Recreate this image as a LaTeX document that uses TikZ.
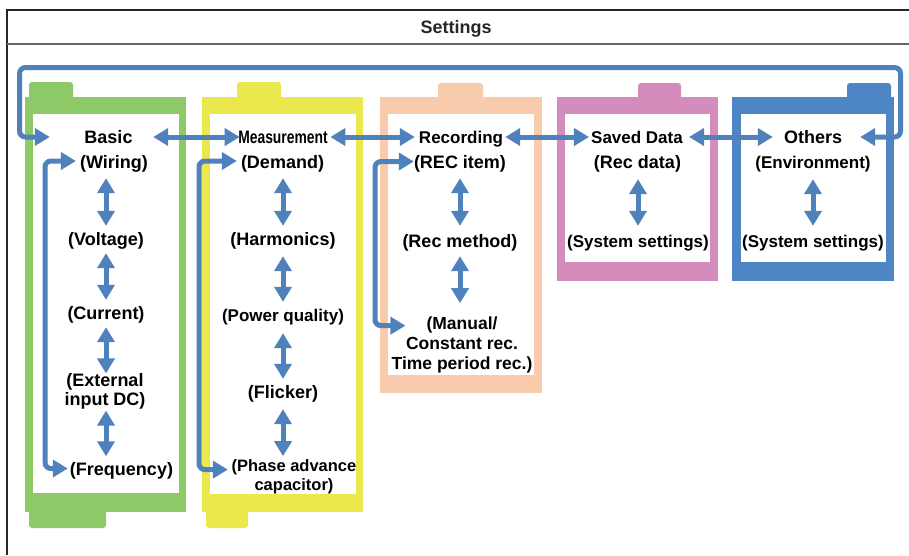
\documentclass[tikz,border=0pt]{standalone}
\usepackage{fontspec}
\setmainfont{Liberation Sans}
\usetikzlibrary{arrows.meta}
\definecolor{abl}{RGB}{79,129,189}
\definecolor{fgreen}{RGB}{141,201,103}
\definecolor{fyellow}{RGB}{235,232,78}
\definecolor{fpeach}{RGB}{247,203,172}
\definecolor{fpink}{RGB}{211,140,187}
\definecolor{fblue}{RGB}{78,134,197}
\newcommand\fsz[2]{\fontsize{#1}{#2}\selectfont\bfseries}
\tikzset{
  lbl/.style={font=\fsz{18}{19}, inner sep=0pt, text height=13pt, text depth=4pt},
  hdr/.style={lbl, text height=14.5pt, text depth=2.5pt},
  mlbl/.style={font=\fsz{18}{19}, inner sep=0pt, align=center},
  conn/.style={draw=abl, line width=5pt, {Triangle[width=17pt,length=15pt]}-{Triangle[width=17pt,length=15pt]}},
  cyc/.style={conn, rounded corners=6pt},
  tabshape/.style={rounded corners=3pt},
}
\begin{document}
\begin{tikzpicture}[x=1pt,y=-1pt]
\useasboundingbox (0,0) rectangle (909,555);
\fill[white] (0,0) rectangle (909,555);
% frame
\draw[line width=1.1pt, black!85] (7,555) -- (7,10) -- (909,10);
\draw[line width=1.6pt, black!60] (7,44) -- (909,44);
\node[hdr, font=\fsz{18}{20}, text=black!85] (title) at (456,27.5) {Settings};

% folders: green
\fill[fgreen, tabshape] (29,82) rectangle (73,102);
\fill[fgreen, tabshape] (29,505) rectangle (106,528);
\fill[fgreen] (25,97) rectangle (186,512);
\fill[white] (33,114) rectangle (179,493);
% yellow
\fill[fyellow, tabshape] (237,82) rectangle (281,102);
\fill[fyellow, tabshape] (206,505) rectangle (248,528);
\fill[fyellow] (202,97) rectangle (363,512);
\fill[white] (210,114) rectangle (356,494);
% peach
\fill[fpeach, tabshape] (438,83) rectangle (483,102);
\fill[fpeach] (380,97) rectangle (542,393);
\fill[white] (388,114) rectangle (534,375);
% pink
\fill[fpink, tabshape] (638,83) rectangle (681,102);
\fill[fpink] (557,97) rectangle (718,281);
\fill[white] (565,114) rectangle (710,262);
% blue
\fill[fblue, tabshape] (847,83) rectangle (891,102);
\fill[fblue] (732,97) rectangle (894,281);
\fill[white] (741,114) rectangle (886,262);

% texts: Basic
\node[hdr] (basic) at (108.5,137) {Basic};
\node[lbl] (wiring) at (114,163.5) {(Wiring)};
\node[lbl] (voltage) at (106,240.5) {(Voltage)};
\node[lbl] (current) at (106,314.5) {(Current)};
\node[mlbl] (ext) at (105,391.5) {(External\\input DC)};
\node[lbl] (freq) at (121.5,471) {(Frequency)};
% Measurement
\node[hdr, xscale=0.77] (meas) at (283,137) {Measurement};
\node[lbl] (demand) at (282.5,163.5) {(Demand)};
\node[lbl] (harm) at (283,240.5) {(Harmonics)};
\node[lbl, font=\fsz{17}{19}] (power) at (283,316.5) {(Power quality)};
\node[lbl] (flicker) at (283,393.5) {(Flicker)};
\node[mlbl, font=\fsz{16.5}{19}] (phase) at (294,477) {(Phase advance\\capacitor)};
% Recording
\node[hdr, font=\fsz{17}{19}] (rec) at (461,137) {Recording};
\node[lbl] (recitem) at (460,163.5) {(REC item)};
\node[lbl] (recmethod) at (460,242.5) {(Rec method)};
\node[mlbl, font=\fsz{17.5}{20}] (manual) at (462,344.5) {(Manual/\\Constant rec.\\Time period rec.)};
% Saved Data
\node[hdr, font=\fsz{17}{19}] (saved) at (637,137) {Saved Data};
\node[lbl] (recdata) at (637.5,163.5) {(Rec data)};
\node[lbl, font=\fsz{17}{19}] (sys1) at (638,242.5) {(System settings)};
% Others
\node[hdr] (others) at (813,137) {Others};
\node[lbl, font=\fsz{17}{19}] (env) at (813,163.5) {(Environment)};
\node[lbl, font=\fsz{17}{19}] (sys2) at (813,242.5) {(System settings)};

% loop coordinates
\coordinate (tr) at (900.5,67.5);
\coordinate (tl) at (19.5,67.5);
\coordinate (lb) at (45,300);
\coordinate (lm) at (199,300);
\coordinate (lr) at (375,250);

% top loop
\draw[cyc] ([xshift=18pt]others.east) -| (tr) -- (tl) |- ([xshift=-34.5pt]basic.west);
% header arrows
\draw[conn, shorten <=20.5pt, shorten >=-1.5pt] (basic.east) -- (meas.west);
\draw[conn, shorten <=2.5pt, shorten >=4pt] (meas.east) -- (rec.west);
\draw[conn, shorten <=2pt, shorten >=2pt] (rec.east) -- (saved.west);
\draw[conn, shorten <=6pt, shorten >=11pt] (saved.east) -- (others.west);

% side loops
\draw[cyc] ([xshift=-4pt,yshift=2.5pt]wiring.west) -| (lb) |- ([xshift=-2pt,yshift=2.5pt]freq.west);
\draw[cyc] ([xshift=-4pt,yshift=2.5pt]demand.west) -| (lm) |- ([xshift=-3.6pt,yshift=-10pt]phase.north west);
\draw[cyc] ([yshift=2pt]recitem.west) -| (lr) |- ([xshift=14pt,yshift=-9.5pt]manual.north west);

% vertical arrows: Basic
\draw[conn, shorten <=6pt, shorten >=6pt] (wiring.south -| voltage.north) -- (voltage.north);
\draw[conn, shorten <=4pt, shorten >=6pt] (voltage.south) -- (current.north);
\draw[conn, shorten <=4pt, shorten >=0pt] (current.south) -- (ext.north -| current.south);
\draw[conn, shorten <=1pt, shorten >=6pt] (ext.south -| current.south) -- (freq.north -| current.south);
% Measurement
\draw[conn, shorten <=6pt, shorten >=6pt] (demand.south -| harm.north) -- (harm.north);
\draw[conn, shorten <=7pt, shorten >=6pt] (harm.south) -- (power.north);
\draw[conn, shorten <=8pt, shorten >=6pt] (power.south) -- (flicker.north);
\draw[conn, shorten <=7pt, shorten >=3.5pt] (flicker.south) -- (phase.north -| flicker.south);
% Recording
\draw[conn, shorten <=6pt, shorten >=8pt] (recitem.south -| recmethod.north) -- (recmethod.north);
\draw[conn, shorten <=5pt, shorten >=13pt] (recmethod.south) -- (manual.north -| recmethod.south);
% Saved Data
\draw[conn, shorten <=7pt, shorten >=8pt] (recdata.south -| sys1.north) -- (sys1.north);
% Others
\draw[conn, shorten <=7pt, shorten >=8pt] (env.south) -- (sys2.north);
\end{tikzpicture}
\end{document}
